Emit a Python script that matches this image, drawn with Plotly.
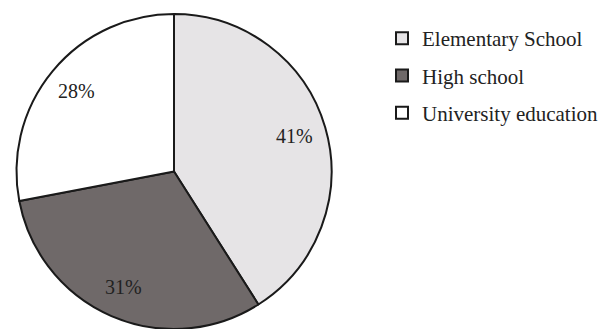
import math
import plotly.graph_objects as go

labels = ["Elementary School", "High school", "University education"]
values = [41, 31, 28]
colors = ["#e6e4e6", "#6f6969", "#ffffff"]

W, H = 605, 329
CX, CY, R = 174, 171.5, 157.5
FONT = "Liberation Serif, Times New Roman, serif"

fig = go.Figure()
fig.add_trace(go.Pie(
    labels=labels, values=values, sort=False, direction="clockwise", rotation=0,
    marker=dict(colors=colors, line=dict(color="#1a1a1a", width=2)),
    textinfo="none",
    domain=dict(x=[(CX - R) / W, (CX + R) / W], y=[0, 1 - (CY - R) / H]),
    showlegend=False, hoverinfo="label+percent",
))

# percent labels placed at ~0.8R along each slice's mid-angle
total = sum(values)
cum = 0
for v in values:
    mid = (cum + v / 2) / total * 2 * math.pi
    cum += v
    px = CX + 0.8 * R * math.sin(mid)
    py = CY - 0.8 * R * math.cos(mid)
    fig.add_annotation(x=px / W, y=1 - py / H, xref="paper", yref="paper",
                       xanchor="center", yanchor="middle",
                       text=f"{round(100 * v / total)}%", showarrow=False,
                       font=dict(family=FONT, size=20, color="#222"))

for lab, col in zip(labels, colors):
    fig.add_trace(go.Scatter(
        x=[None], y=[None], mode="markers", name=lab, legendgroup=lab,
        marker=dict(symbol="square", size=12, color=col, line=dict(color="#1a1a1a", width=2)),
        showlegend=True,
    ))
fig.update_layout(
    width=W, height=H, margin=dict(l=0, r=0, t=0, b=0),
    paper_bgcolor="white", plot_bgcolor="white",
    xaxis=dict(visible=False), yaxis=dict(visible=False),
    legend=dict(x=382 / W, y=1 - 18 / H, xanchor="left", yanchor="top",
                font=dict(family=FONT, size=21, color="#222"),
                tracegroupgap=7, itemsizing="constant", bgcolor="rgba(0,0,0,0)"),
)
fig.write_html("out.html")
